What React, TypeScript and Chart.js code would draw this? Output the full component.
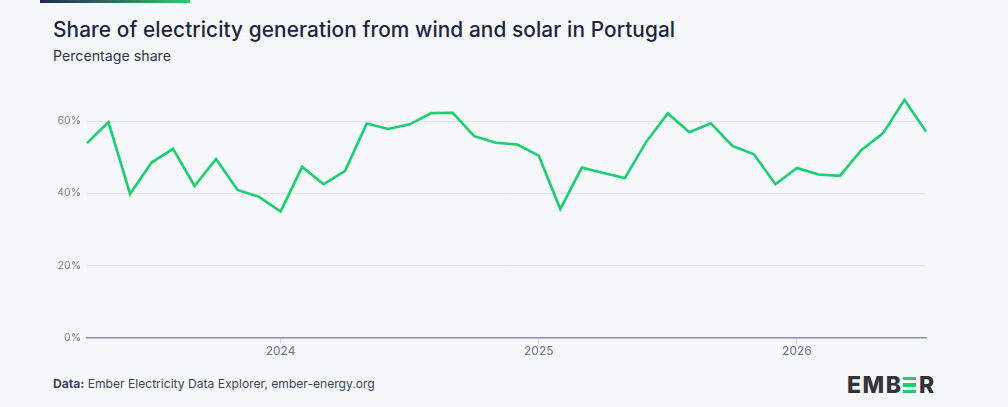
import React, { useEffect, useRef } from "react";
import { Chart, registerables } from "chart.js";

Chart.register(...registerables);

const monthLabels: string[] = [
  "Apr 2023", "May 2023", "Jun 2023", "Jul 2023", "Aug 2023", "Sep 2023", "Oct 2023", "Nov 2023", "Dec 2023",
  "Jan 2024", "Feb 2024", "Mar 2024", "Apr 2024", "May 2024", "Jun 2024", "Jul 2024", "Aug 2024", "Sep 2024",
  "Oct 2024", "Nov 2024", "Dec 2024",
  "Jan 2025", "Feb 2025", "Mar 2025", "Apr 2025", "May 2025", "Jun 2025", "Jul 2025", "Aug 2025", "Sep 2025",
  "Oct 2025", "Nov 2025", "Dec 2025",
  "Jan 2026", "Feb 2026", "Mar 2026", "Apr 2026", "May 2026", "Jun 2026", "Jul 2026",
];

const windSolarShare: number[] = [
  53.9, 59.7, 39.8, 48.5, 52.3, 42.0, 49.5, 40.9, 39.0,
  34.9, 47.3, 42.5, 46.2, 59.3, 57.8, 59.1, 62.2, 62.3,
  55.8, 54.0, 53.5,
  50.4, 35.6, 47.1, 45.6, 44.2, 54.3, 62.1, 56.9, 59.4,
  53.1, 50.8, 42.5,
  47.0, 45.2, 44.8, 52.0, 56.6, 65.9, 57.1,
];

const yTickValues: number[] = [0, 20, 40, 60];

const FONT = "Inter, 'Noto Sans', sans-serif";

export default function App() {
  const canvasRef = useRef<HTMLCanvasElement | null>(null);

  useEffect(() => {
    document.body.style.margin = "0";
    const canvas = canvasRef.current;
    if (!canvas) return;
    const chart = new Chart(canvas, {
      type: "line",
      data: {
        labels: monthLabels,
        datasets: [
          {
            label: "Wind and solar",
            data: windSolarShare,
            borderColor: "#19cf6f",
            borderWidth: 2.6,
            pointRadius: 0,
            tension: 0,
            fill: false,
            borderJoinStyle: "miter",
          },
        ],
      },
      options: {
        animation: false,
        responsive: false,
        maintainAspectRatio: false,
        layout: { padding: { top: 15, right: 82, left: 0, bottom: 0 } },
        plugins: { legend: { display: false }, tooltip: { enabled: false } },
        scales: {
          x: {
            type: "category",
            offset: false,
            afterFit: (scale: any) => {
              scale.height = 32.5;
            },
            border: { display: true, color: "#8a8fa7", width: 1.5 },
            grid: {
              display: true,
              drawOnChartArea: false,
              drawTicks: true,
              tickLength: 6,
              color: (ctx: any) =>
                monthLabels[ctx.index] && monthLabels[ctx.index].startsWith("Jan") ? "#d5d8e2" : "rgba(0,0,0,0)",
            },
            ticks: {
              autoSkip: false,
              maxRotation: 0,
              padding: 1,
              color: "#6b7190",
              font: { family: FONT, size: 12 },
              callback: (_v: any, i: number) =>
                monthLabels[i].startsWith("Jan") ? monthLabels[i].slice(4) : "",
            },
          },
          y: {
            min: 0,
            max: 70,
            afterFit: (scale: any) => {
              scale.width = 87;
            },
            afterBuildTicks: (scale: any) => {
              scale.ticks = yTickValues.map((v) => ({ value: v }));
            },
            border: { display: false },
            grid: {
              drawTicks: false,
              color: (ctx: any) => (ctx.tick && ctx.tick.value === 0 ? "rgba(0,0,0,0)" : "#e1e3ec"),
              lineWidth: 1,
            },
            ticks: {
              padding: 6,
              color: "#7b809a",
              font: { family: FONT, size: 10.5 },
              callback: (v: any) => `${v}%`,
            },
          },
        },
      },
    });
    return () => chart.destroy();
  }, []);

  const bar = (top: number) => (
    <div style={{ position: "absolute", left: 0, top, width: 13, height: 3.4, background: "#19cf6f" }} />
  );

  return (
    <div
      style={{
        position: "fixed",
        left: 0,
        top: 0,
        width: 1008,
        height: 407,
        background: "#f6f7fb",
        overflow: "hidden",
        fontFamily: FONT,
      }}
    >
      <div
        style={{
          position: "absolute",
          left: 40,
          top: 0,
          width: 150,
          height: 3,
          background: "linear-gradient(90deg, #1f2b52 0%, #2f7a5e 55%, #40c56c 100%)",
        }}
      />
      <div
        style={{
          position: "absolute",
          left: 53,
          top: 17,
          fontSize: 20.8,
          fontWeight: 500,
          color: "#1d2440",
          whiteSpace: "nowrap",
          letterSpacing: 0.1,
        }}
      >
        Share of electricity generation from wind and solar in Portugal
      </div>
      <div
        style={{
          position: "absolute",
          left: 53,
          top: 47,
          fontSize: 14.2,
          color: "#2e344d",
          whiteSpace: "nowrap",
        }}
      >
        Percentage share
      </div>
      <canvas
        ref={canvasRef}
        width={1008}
        height={300}
        style={{ position: "absolute", left: 0, top: 70, width: 1008, height: 300 }}
      />
      <div
        style={{
          position: "absolute",
          left: 53,
          top: 376,
          fontSize: 12.1,
          color: "#3b4262",
          whiteSpace: "nowrap",
        }}
      >
        <span style={{ fontWeight: 700 }}>Data:</span> Ember Electricity Data Explorer, ember-energy.org
      </div>
      <div
        style={{
          position: "absolute",
          left: 847,
          top: 372,
          height: 26,
          display: "flex",
          alignItems: "center",
          fontSize: 23,
          fontWeight: 800,
          color: "#323436",
          letterSpacing: 1.5,
          whiteSpace: "nowrap",
        }}
      >
        <span>EMB</span>
        <span style={{ position: "relative", display: "inline-block", width: 15, height: 17, marginRight: 1.5 }}>
          {bar(0)}
          {bar(6.8)}
          {bar(13.6)}
        </span>
        <span>R</span>
      </div>
    </div>
  );
}
